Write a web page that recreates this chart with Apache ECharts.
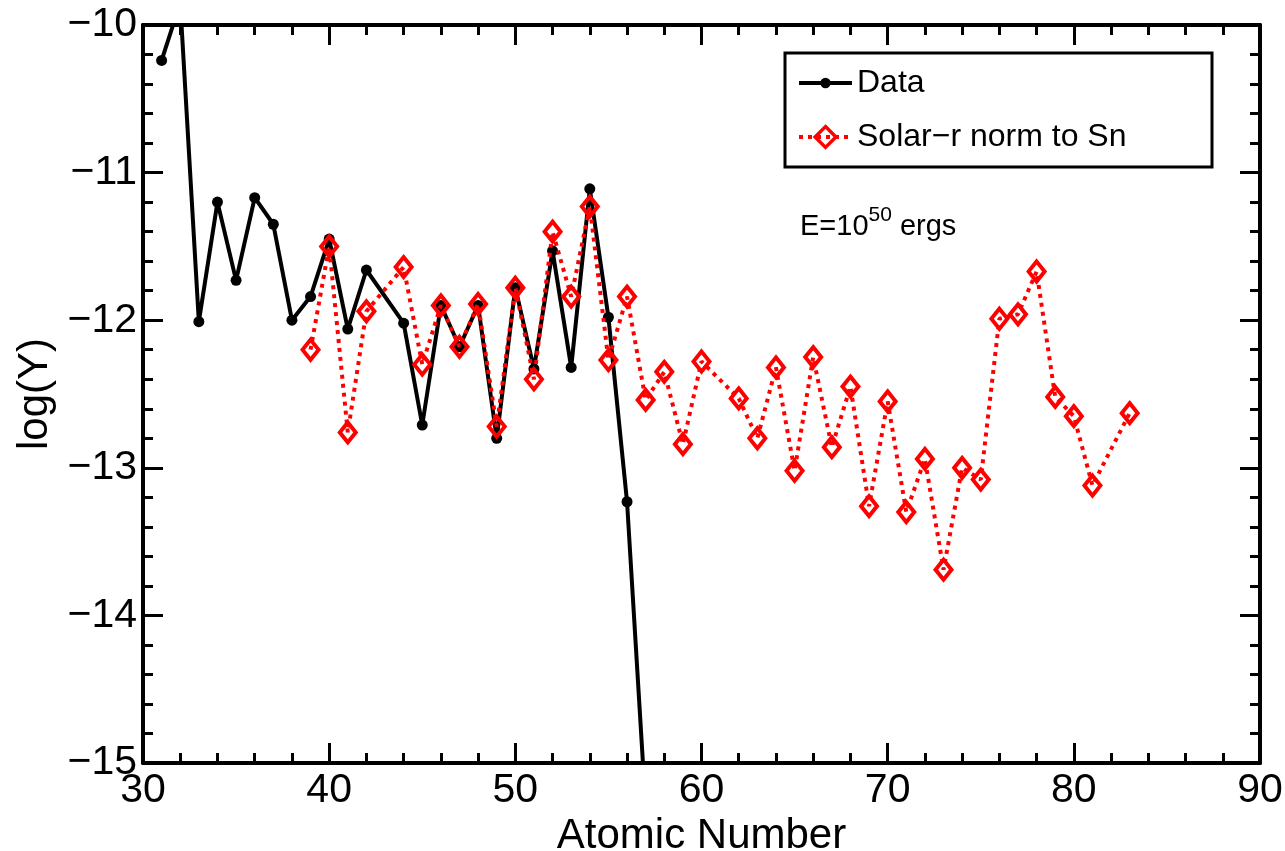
<!DOCTYPE html>
<html>
<head>
<meta charset="utf-8">
<script src="https://cdn.jsdelivr.net/npm/echarts@6/dist/echarts.min.js"></script>
<style>
  html, body { margin: 0; padding: 0; background: #fff; }
  #chart { width: 1285px; height: 851px; }
</style>
</head>
<body>
<div id="chart"></div>
<script>
// measured abundances (black) and solar r-process pattern scaled to Sn (red)
var dataZ    = [31, 32, 33, 34, 35, 36, 37, 38, 39, 40, 41, 42, 44, 45, 46, 47, 48, 49, 50, 51, 52, 53, 54, 55, 56, 57];
var dataLogY = [-10.24, -9.85, -12.01, -11.20, -11.73, -11.17, -11.35, -12.00, -11.84, -11.45, -12.06, -11.66, -12.02,
                -12.71, -11.90, -12.18, -11.90, -12.80, -11.78, -12.33, -11.53, -12.32, -11.11, -11.98, -13.23, -15.30];

var solarZ    = [39, 40, 41, 42, 44, 45, 46, 47, 48, 49, 50, 51, 52, 53, 54, 55, 56, 57, 58, 59, 60,
                 62, 63, 64, 65, 66, 67, 68, 69, 70, 71, 72, 73, 74, 75, 76, 77, 78, 79, 80, 81, 83];
var solarLogY = [-12.20, -11.50, -12.76, -11.94, -11.64, -12.30, -11.90, -12.18, -11.89, -12.72, -11.78, -12.40,
                 -11.40, -11.84, -11.23, -12.27, -11.84, -12.54, -12.35, -12.84, -12.28,
                 -12.53, -12.80, -12.32, -13.02, -12.25, -12.86, -12.45, -13.26, -12.55, -13.30, -12.94,
                 -13.69, -13.00, -13.08, -11.99, -11.96, -11.67, -12.52, -12.65, -13.12, -12.63];

var xTicks = { min: 30, max: 90, step: 10 };
var yTicks = { min: -15, max: -10, step: 1 };

var FONT = 'Liberation Sans, Arial, Helvetica, sans-serif';

function pairs(xs, ys) {
    return xs.map(function(x, i) { return [x, ys[i]]; });
}

function minus(v) {
    return String(v).replace('-', '\u2212');
}

var chart = echarts.init(document.getElementById('chart'));

var axisLine = { show: true, onZero: false, lineStyle: { color: '#000', width: 4 } };
var majorTick = { inside: true, length: 20, lineStyle: { color: '#000', width: 3 } };
var minorTick = { show: true, splitNumber: 5, length: 10, lineStyle: { color: '#000', width: 3 } };

function xAxisDef(pos, showLabels) {
    return {
        type: 'value', position: pos,
        min: xTicks.min, max: xTicks.max, interval: xTicks.step,
        axisLine: axisLine, axisTick: majorTick, minorTick: minorTick,
        splitLine: { show: false },
        axisLabel: { show: showLabels, color: '#000', fontSize: 41, fontFamily: FONT, margin: 7 },
        name: showLabels ? 'Atomic Number' : '',
        nameLocation: 'middle', nameGap: 42,
        nameTextStyle: { color: '#000', fontSize: 42, fontFamily: FONT }
    };
}

function yAxisDef(pos, showLabels) {
    return {
        type: 'value', position: pos,
        min: yTicks.min, max: yTicks.max, interval: yTicks.step,
        axisLine: axisLine, axisTick: majorTick, minorTick: minorTick,
        splitLine: { show: false },
        axisLabel: { show: showLabels, color: '#000', fontSize: 41, fontFamily: FONT, margin: 6, formatter: minus },
        name: showLabels ? 'log(Y)' : '',
        nameLocation: 'middle', nameGap: 85,
        nameTextStyle: { color: '#000', fontSize: 42, fontFamily: FONT }
    };
}

// one legend per entry so each marker can have its own size
function legendDef(name, top, markerHeight) {
    return {
        left: 797, top: top, padding: 0,
        itemWidth: 53, itemHeight: markerHeight,
        lineStyle: { width: 4 },
        itemStyle: { borderWidth: 3.5 },
        textStyle: { color: '#000', fontSize: 32, fontFamily: FONT, lineHeight: 36 },
        data: [name],
        z: 10
    };
}

var option = {
    backgroundColor: '#fff',
    animation: false,
    grid: { left: 143, right: 25, top: 25, bottom: 88, containLabel: false, outerBoundsMode: 'none' },
    xAxis: [xAxisDef('bottom', true), xAxisDef('top', false)],
    yAxis: [yAxisDef('left', true), yAxisDef('right', false)],
    legend: [
        legendDef('Data', 65, 13),
        legendDef('Solar\u2212r norm to Sn', 119, 26)
    ],
    graphic: [{
        type: 'rect', z: 5,
        shape: { x: 785, y: 53, width: 427, height: 114 },
        style: { fill: '#fff', stroke: '#000', lineWidth: 3 }
    }, {
        type: 'text', left: 800, top: 205,
        style: {
            text: '{b|E=10}{s|50}{b| ergs}',
            fill: '#000',
            rich: {
                b: { fontSize: 29, fontFamily: FONT, lineHeight: 36, verticalAlign: 'bottom', fill: '#000' },
                s: { fontSize: 21, fontFamily: FONT, lineHeight: 20, verticalAlign: 'top', fill: '#000' }
            }
        }
    }],
    series: [{
        name: 'Data', type: 'line',
        data: pairs(dataZ, dataLogY),
        clip: true,
        symbol: 'circle', symbolSize: 11,
        lineStyle: { color: '#000', width: 4 },
        itemStyle: { color: '#000' },
        z: 2
    }, {
        name: 'Solar\u2212r norm to Sn', type: 'line',
        data: pairs(solarZ, solarLogY),
        clip: true,
        symbol: 'diamond', symbolSize: [16, 20],
        lineStyle: { color: '#ff0000', width: 4, type: [4, 5] },
        itemStyle: { color: 'rgba(255,255,255,0)', borderColor: '#ff0000', borderWidth: 4 },
        z: 3
    }]
};

chart.setOption(option);
</script>
</body>
</html>
